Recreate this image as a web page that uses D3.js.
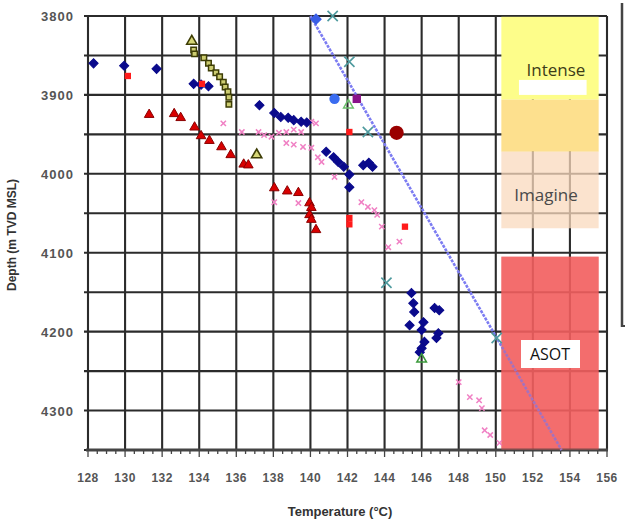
<!DOCTYPE html>
<html><head><meta charset="utf-8">
<script src="https://cdn.jsdelivr.net/npm/d3@7"></script>
<style>body{margin:0;background:#fff;} svg{display:block;}</style>
</head><body>
<svg id="c" width="625" height="525"></svg>
<script>
// ---- data (temperature °C, depth m TVD MSL) ----
const xTicks = [128,130,132,134,136,138,140,142,144,146,148,150,152,154,156];
const yTicks = [3800,3900,4000,4100,4200,4300];
const navyDiamonds = [
 [128.3,3860],[129.95,3863],[131.7,3867],[133.7,3886],[134.1,3887],[134.5,3889],
 [137.25,3913],[138.05,3923],[138.4,3928],[138.8,3929],[139.1,3932],[139.5,3934],[139.8,3935],
 [140.85,3972],[141.25,3979],[141.5,3985],[141.8,3991],[142.1,4001],[142.1,4017],[142.85,3989],[143.15,3986],[143.35,3991],
 [145.45,4151],[145.55,4164],[145.6,4175],[146.7,4170],[146.95,4173],[145.35,4192],[146.1,4188],[146.0,4198],
 [146.9,4202],[146.8,4208],[146.15,4213],[146.0,4221],[145.9,4226]
];
const redSquares = [[130.15,3876],[134.15,3886],[142.1,3947],[142.1,4056],[142.1,4064],[145.1,4067]];
const redTriangles = [
 [131.3,3925],[132.65,3924],[133.0,3929],[133.75,3941],[134.1,3952],[134.55,3958],[135.2,3966],[135.7,3976],
 [136.4,3988],[136.65,3989],[138.05,4018],[138.75,4022],[139.35,4024],[139.95,4037],[140.05,4043],
 [139.95,4052],[140.05,4058],[140.3,4071]
];
const oliveSquares = [[133.7,3843],[133.75,3848],[134.25,3853],[134.5,3860],[134.65,3866],[134.9,3872],
 [135.1,3877],[135.3,3884],[135.4,3890],[135.55,3896],[135.6,3903],[135.6,3912]];
const oliveTriangles = [[133.6,3832],[137.1,3976]];
const pinkMarks = [
 [135.3,3936],[136.3,3947],[137.2,3947],[137.5,3951],[137.9,3953],[138.3,3948],[138.7,3947],[139.1,3944],
 [139.5,3947],[140.05,3934],[140.3,3936],[138.7,3961],[139.1,3963],[139.6,3966],[140.05,3967],[140.4,3979],
 [140.6,3985],[141.3,4004],[138.05,4036],[139.35,4037],[142.75,4036],[143.1,4042],[143.45,4046],[143.6,4052],
 [143.85,4067],[144.2,4093],[144.8,4086],[148.0,4264],[148.6,4283],[149.1,4287],[149.25,4297],[149.4,4325],
 [149.7,4331],[150.2,4341]
];
const tealCrosses = [[141.2,3800],[142.1,3858],[143.1,3947],[144.1,4138],[150.05,4208]];
const trendT = [140.0,153.55];
const trendD = [3800,4350];
const zones = [
 {name:"Intense", t0:150.3, t1:155.55, d0:3801, d1:3906, fill:"#fdfd8a", op:1},
 {name:"", t0:150.3, t1:155.55, d0:3906, d1:3972, fill:"#fde08e", op:1},
 {name:"Imagine", t0:150.3, t1:155.55, d0:3972, d1:4069, fill:"#f9d9bd", op:0.75},
 {name:"ASOT", t0:150.3, t1:155.55, d0:4105, d1:4350, fill:"#f25e5e", op:0.85}
];

const svg = d3.select("#c");
const L=88, R=607, T=16, B=450;
const x = d3.scaleLinear().domain([128,156]).range([L,R]);
const y = d3.scaleLinear().domain([3800,4350]).range([T,B]);
const gridC = "#2b2b2b";

const g = svg.append("g");
g.selectAll(".vg").data(xTicks).enter().append("line")
 .attr("x1",d=>x(d)).attr("x2",d=>x(d)).attr("y1",T).attr("y2",B)
 .attr("stroke",gridC).attr("stroke-width",2.1);
const hLines = d3.range(3800,4351,50);
g.selectAll(".hg").data(hLines).enter().append("line")
 .attr("x1",L-4).attr("x2",R).attr("y1",d=>y(d)).attr("y2",d=>y(d))
 .attr("stroke",gridC).attr("stroke-width",2.1);

zones.forEach(z=>{
  svg.append("rect").attr("x",x(z.t0)).attr("y",y(z.d0))
   .attr("width",x(z.t1)-x(z.t0)).attr("height",y(z.d1)-y(z.d0))
   .attr("fill",z.fill).attr("opacity",z.op);
});
svg.append("rect").attr("x",x(151.25)).attr("y",y(3881)).attr("width",x(154.9)-x(151.25)).attr("height",y(3900)-y(3881)).attr("fill","#fff");

const ax = svg.append("g");
ax.append("line").attr("x1",L-2).attr("x2",R+1).attr("y1",B).attr("y2",B).attr("stroke","#444").attr("stroke-width",3);
ax.selectAll(".mt").data(d3.range(128,156.01,0.5)).enter().append("line")
 .attr("x1",d=>x(d)).attr("x2",d=>x(d)).attr("y1",B).attr("y2",d=>B+(d%2===0?7:4))
 .attr("stroke","#444").attr("stroke-width",1.3);
ax.selectAll(".xl").data(xTicks).enter().append("text")
 .attr("x",d=>x(d)).attr("y",B+32).attr("text-anchor","middle")
 .attr("font-family","Liberation Sans, Arial, sans-serif").attr("font-weight","bold")
 .attr("font-size",12).attr("letter-spacing",0.5).attr("fill","#555").text(d=>d);
ax.selectAll(".yl").data(yTicks).enter().append("text")
 .attr("x",L-14).attr("y",d=>y(d)+5).attr("text-anchor","end")
 .attr("font-family","Liberation Sans, Arial, sans-serif").attr("font-weight","bold")
 .attr("font-size",13).attr("letter-spacing",1).attr("fill","#555").text(d=>d);

svg.append("text").attr("transform","translate(16,235) rotate(-90)").attr("text-anchor","middle")
 .attr("font-family","Liberation Sans, Arial, sans-serif").attr("font-weight","bold").attr("font-size",12)
 .attr("fill","#333").text("Depth (m TVD MSL)");
svg.append("text").attr("x",340).attr("y",516).attr("text-anchor","middle")
 .attr("font-family","Liberation Sans, Arial, sans-serif").attr("font-weight","bold").attr("font-size",13)
 .attr("fill","#333").text("Temperature (°C)");

svg.append("line").attr("x1",622).attr("x2",622).attr("y1",3).attr("y2",327).attr("stroke","#444").attr("stroke-width",2.5);
svg.append("line").attr("x1",622).attr("x2",625).attr("y1",326).attr("y2",326).attr("stroke","#444").attr("stroke-width",2);

const P = d=>`translate(${x(d[0])},${y(d[1])})`;
const sym = (type,size)=>d3.symbol().type(type).size(size)();

svg.selectAll(".pk").data(pinkMarks).enter().append("path").attr("transform",P)
 .attr("d",sym(d3.symbolTimes,20)).attr("fill","none").attr("stroke","#f080c4").attr("stroke-width",1.5);

svg.selectAll(".rt").data(redTriangles).enter().append("path").attr("transform",P)
 .attr("d",sym(d3.symbolTriangle,40)).attr("fill","#d80000").attr("stroke","#8a0000").attr("stroke-width",1);

svg.selectAll(".os").data(oliveSquares).enter().append("path").attr("transform",P)
 .attr("d",sym(d3.symbolSquare,30)).attr("fill","#cccc70").attr("stroke","#3d3d05").attr("stroke-width",1.5);
svg.selectAll(".ot").data(oliveTriangles).enter().append("path").attr("transform",P)
 .attr("d",sym(d3.symbolTriangle,45)).attr("fill","#d6d676").attr("stroke","#3d3d05").attr("stroke-width",1.6);

svg.selectAll(".nd").data(navyDiamonds).enter().append("path").attr("transform",d=>P(d)+" rotate(45)")
 .attr("d",sym(d3.symbolSquare,42)).attr("fill","#0a0a8c").attr("stroke","#0a0a8c").attr("stroke-width",1);

svg.selectAll(".rs").data(redSquares).enter().append("path").attr("transform",P)
 .attr("d",sym(d3.symbolSquare,40)).attr("fill","#ff1a1a");

const trend = trendT.map((t,i)=>[t,trendD[i]]);
svg.append("path").attr("d",d3.line().x(d=>x(d[0])).y(d=>y(d[1]))(trend))
 .attr("stroke","#7c7cf2").attr("stroke-width",2.6).attr("stroke-dasharray","3,1.2").attr("fill","none");
const az = zones[3];
svg.append("rect").attr("x",x(az.t0)).attr("y",y(az.d0)).attr("width",x(az.t1)-x(az.t0)).attr("height",y(az.d1)-y(az.d0))
 .attr("fill","#f25e5e").attr("opacity",0.35);

svg.selectAll(".tx").data(tealCrosses).enter().append("path").attr("transform",P)
 .attr("d",sym(d3.symbolTimes,70)).attr("fill","none").attr("stroke","#4e9a9e").attr("stroke-width",1.6);

svg.append("path").attr("transform",P([140.3,3804])+" rotate(45)").attr("d",sym(d3.symbolSquare,70)).attr("fill","#3a5ee6");
svg.append("path").attr("transform",P([141.3,3905])).attr("d",sym(d3.symbolCircle,85)).attr("fill","#3a6cf0");
svg.append("path").attr("transform",P([142.05,3913])).attr("d",sym(d3.symbolTriangle,40)).attr("fill","none").attr("stroke","#6cc06c").attr("stroke-width",1.5);
svg.append("path").attr("transform",P([142.5,3905])).attr("d",sym(d3.symbolSquare,70)).attr("fill","#8a128a");
svg.append("path").attr("transform",P([144.65,3948])).attr("d",sym(d3.symbolCircle,160)).attr("fill","#9a0000");
svg.append("path").attr("transform",P([146.0,4235])).attr("d",sym(d3.symbolTriangle,40)).attr("fill","none").attr("stroke","#3c9a3c").attr("stroke-width",1.5);

svg.append("text").attr("x",556).attr("y",76).attr("text-anchor","middle").attr("font-family","Open Sans, sans-serif")
 .attr("font-size",17).attr("fill","#3c3c18").text("Intense");
svg.append("text").attr("x",546).attr("y",201).attr("text-anchor","middle").attr("font-family","Open Sans, sans-serif")
 .attr("font-size",17).attr("fill","#4a4a4a").text("Imagine");
svg.append("rect").attr("x",521).attr("y",340).attr("width",59).attr("height",28).attr("fill","#fff");
svg.append("text").attr("x",550).attr("y",360).attr("text-anchor","middle").attr("font-family","Open Sans, sans-serif")
 .attr("font-size",16).attr("fill","#111").text("ASOT");
</script>
</body></html>
